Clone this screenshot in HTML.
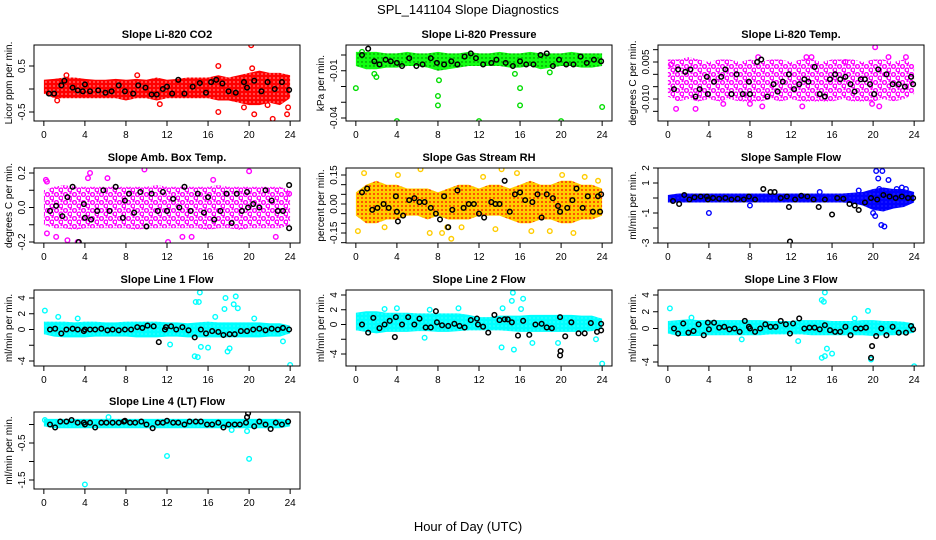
<!DOCTYPE html>
<html><head><meta charset="utf-8"><style>
html,body{margin:0;padding:0;background:#fff;}
svg{display:block;font-family:"Liberation Sans",sans-serif;}
</style></head><body>
<svg id="chart" width="936" height="540" viewBox="0 0 936 540" xmlns="http://www.w3.org/2000/svg">
<defs>
<pattern id="pRed" width="4" height="4" patternUnits="userSpaceOnUse"><rect width="4" height="4" fill="#f00"/><circle cx="2" cy="2" r="0.6" fill="#fff"/></pattern>
<pattern id="pGreen" width="4" height="4" patternUnits="userSpaceOnUse"><rect width="4" height="4" fill="#1f1"/><circle cx="2" cy="2" r="0.7" fill="#060"/></pattern>
<pattern id="pMag" width="9" height="8" patternUnits="userSpaceOnUse"><rect width="9" height="8" fill="#fff"/><circle cx="2.5" cy="2.5" r="1.9" fill="none" stroke="#f0f" stroke-width="1.4"/><circle cx="7" cy="6" r="1.9" fill="none" stroke="#f0f" stroke-width="1.4"/><circle cx="7.5" cy="1" r="1.2" fill="#f0f"/></pattern>
<pattern id="pOrange" width="4" height="4" patternUnits="userSpaceOnUse"><rect width="4" height="4" fill="#fc0"/><circle cx="2" cy="2" r="0.9" fill="#f00"/></pattern>
<pattern id="pBlue" width="4" height="4" patternUnits="userSpaceOnUse"><rect width="4" height="4" fill="#00f"/><circle cx="2" cy="2" r="0.5" fill="#66f"/></pattern>
<pattern id="pCyan" width="4" height="4" patternUnits="userSpaceOnUse"><rect width="4" height="4" fill="#0ff"/><circle cx="2" cy="2" r="0.5" fill="#9ff"/></pattern>
</defs>
<text x="468" y="14" text-anchor="middle" font-size="13">SPL_141104  Slope Diagnostics</text>
<text x="468" y="531" text-anchor="middle" font-size="13">Hour of Day (UTC)</text>
</svg>
<script>
const xTicks = [0,4,8,12,16,20,24];
const bandHours = [0,1,2,3,4,5,6,7,8,9,10,11,12,13,14,15,16,17,18,19,20,21,22,23,24];

// Panel 1: CO2
const co2Hi = [0.2,0.22,0.25,0.25,0.22,0.2,0.2,0.22,0.2,0.22,0.2,0.25,0.2,0.22,0.25,0.25,0.25,0.3,0.25,0.3,0.35,0.4,0.35,0.35,0.3];
const co2Lo = [-0.1,-0.2,-0.2,-0.2,-0.2,-0.2,-0.2,-0.2,-0.25,-0.2,-0.2,-0.25,-0.2,-0.2,-0.2,-0.2,-0.2,-0.25,-0.25,-0.3,-0.35,-0.35,-0.3,-0.35,-0.2];
const co2OutX = [17,17,20.2,20.5,22.3,23.7,23.8,11.3,1.3,21.8,20.3,19.5,9.1,2.2];
const co2OutY = [-0.5,0.5,0.95,-0.55,-0.65,-0.55,-0.4,-0.33,-0.25,-0.35,0.45,-0.4,0.3,0.3];
const co2BlkX = [0.5,1,1.7,2,2.8,3.3,3.8,4,4.5,5.3,6,6.6,7.3,7.9,8.7,9.2,9.9,10.5,11,11.6,12,12.5,13.1,13.7,14.5,15.2,15.8,16.3,16.8,17.4,18,18.7,19.5,19.8,20.5,21.2,21.8,22.5,23.2,23.9];
const co2BlkY = [-0.1,-0.1,0.08,0.18,0.03,-0.03,-0.05,0.1,-0.05,-0.03,-0.08,-0.05,0.08,-0.05,-0.1,0.08,0.03,-0.12,-0.12,0.0,0.05,-0.1,0.2,-0.1,0.05,0.13,-0.08,0.15,0.2,0.12,-0.05,-0.08,0.15,0.03,0.18,-0.05,0.15,0.0,0.15,-0.02];

// Panel 2: Pressure
const prHi = [0.002,0.002,0.002,0.001,0.001,0.002,0.001,0.001,0.002,0.001,0.001,0.002,0.001,0.001,0.002,0.001,0.001,0.002,0.001,0.001,0.001,0.002,0.001,0.001,0.001];
const prLo = [-0.007,-0.009,-0.009,-0.008,-0.008,-0.007,-0.007,-0.008,-0.01,-0.009,-0.008,-0.007,-0.007,-0.007,-0.007,-0.008,-0.008,-0.007,-0.009,-0.008,-0.007,-0.007,-0.008,-0.008,-0.007];
const prOutX = [0,4,8,8,12,16,16,20,24,1.8,2,0.6,8.1,15.5,18.9];
const prOutY = [-0.021,-0.042,-0.026,-0.032,-0.042,-0.032,-0.021,-0.042,-0.033,-0.012,-0.014,0.002,-0.016,-0.012,-0.011];
const prBlkX = [0.6,1.2,1.8,2.3,2.9,3.4,4,4.5,5.2,5.9,6.5,7.3,7.9,8.6,9.3,9.9,10.6,11.2,11.7,12.4,13.2,13.7,14.6,15.3,16,16.6,17.3,18,18.6,19.2,19.8,20.5,21.2,21.9,22.5,23.2,23.9];
const prBlkY = [0.0,0.004,-0.004,-0.006,-0.003,-0.004,-0.005,-0.007,-0.002,-0.007,-0.006,-0.002,-0.005,-0.006,-0.004,-0.006,-0.001,0.001,-0.002,-0.006,-0.005,-0.003,-0.005,-0.007,-0.004,-0.006,-0.006,0.0,0.001,-0.007,-0.003,-0.006,-0.006,-0.001,-0.005,-0.003,-0.004];

// Panel 3: Li-820 Temp
const ltHi = [0.006,0.006,0.007,0.006,0.005,0.006,0.006,0.005,0.006,0.005,0.006,0.006,0.005,0.006,0.006,0.005,0.006,0.006,0.006,0.005,0.006,0.006,0.005,0.006,0.004];
const ltLo = [-0.009,-0.011,-0.01,-0.011,-0.01,-0.011,-0.01,-0.011,-0.011,-0.011,-0.01,-0.011,-0.01,-0.011,-0.011,-0.011,-0.011,-0.01,-0.011,-0.011,-0.011,-0.01,-0.011,-0.01,-0.008];
const ltOutX = [20.2,0.8,2.7,8.8,13.5,14,21.5,23.2,20.6,8,9.2,0.3,17.3,13.1,19.9,5.4];
const ltOutY = [0.011,-0.014,-0.014,0.007,0.007,0.007,0.007,0.007,-0.013,-0.012,-0.013,0.004,0.005,-0.013,-0.012,-0.012];
const ltBlkX = [0.6,1,1.7,2.2,2.7,3.1,3.8,3.9,4.5,5.2,5.6,6.2,6.7,7.3,7.9,8,8.7,9.1,9.7,10.3,10.7,11.2,11.8,12.3,12.8,13.3,13.7,14.3,14.8,15.3,15.8,16.3,16.8,17.3,17.8,18.2,18.8,19.2,19.7,20.1,20.5,21.3,21.9,22.5,23.1,23.7,23.9];
const ltBlkY = [-0.006,0.002,0.001,0.002,-0.009,-0.006,-0.001,-0.008,-0.003,-0.001,0.002,-0.008,0.0,-0.008,-0.003,-0.008,0.005,0.006,-0.009,-0.004,-0.007,-0.003,0.0,-0.006,-0.004,-0.002,-0.003,0.003,-0.008,-0.009,-0.002,0.0,-0.002,-0.001,-0.004,-0.007,-0.002,-0.002,-0.004,-0.008,0.002,0.0,-0.004,-0.004,-0.005,-0.001,-0.004];

// Panel 4: Amb. Box Temp
const abHi = [0.1,0.12,0.13,0.12,0.12,0.12,0.12,0.12,0.12,0.12,0.12,0.13,0.12,0.12,0.12,0.12,0.12,0.13,0.12,0.12,0.12,0.12,0.12,0.12,0.1];
const abLo = [-0.1,-0.12,-0.12,-0.13,-0.12,-0.12,-0.12,-0.12,-0.12,-0.13,-0.12,-0.12,-0.12,-0.12,-0.12,-0.12,-0.13,-0.12,-0.12,-0.13,-0.12,-0.12,-0.12,-0.12,-0.1];
const abOutX = [3.3,4.5,9.8,12.1,20,0.3,0.3,2.3,13.5,14.4,1.2,4.3,0.2,6.2,22.6,23.9,16.5];
const abOutY = [-0.2,0.2,0.22,-0.2,0.21,0.15,-0.15,-0.19,-0.17,-0.17,-0.17,0.17,0.16,0.17,-0.17,0.08,0.16];
const abBlkX = [0.6,1.2,1.8,2.3,2.8,3.4,3.9,4,4.6,5.2,5.8,6.4,7,7.7,7.9,8.3,8.8,9.4,10,10.5,11.1,11.6,12,12.6,13.2,13.7,14.3,15,15.6,16,16.6,17.2,17.8,18.3,18.8,19.3,19.8,19.9,20.4,21,21.6,22.2,22.8,23.3,23.9,23.9];
const abBlkY = [-0.02,0.01,-0.05,0.06,0.12,-0.2,0.02,-0.06,-0.07,-0.02,0.1,-0.02,0.12,-0.06,0.04,0.08,-0.03,0.09,-0.11,0.08,-0.02,0.09,-0.02,0.05,0.0,0.12,-0.02,0.08,-0.03,0.06,-0.07,-0.02,0.08,-0.09,0.08,-0.02,0.09,0.0,0.02,0.0,0.1,0.04,-0.02,-0.02,0.13,-0.12];

// Panel 5: Gas Stream RH
const rhHi = [0.06,0.1,0.12,0.1,0.1,0.08,0.08,0.08,0.06,0.08,0.1,0.1,0.08,0.1,0.1,0.08,0.1,0.12,0.1,0.1,0.12,0.12,0.1,0.1,0.08];
const rhLo = [-0.06,-0.1,-0.1,-0.08,-0.08,-0.06,-0.06,-0.08,-0.06,-0.08,-0.08,-0.08,-0.06,-0.06,-0.06,-0.08,-0.1,-0.1,-0.08,-0.08,-0.1,-0.1,-0.08,-0.08,-0.06];
const rhOutX = [0.8,4.1,6.3,8.4,9.3,12.4,15.7,20.1,22.3,23.6,0.2,2.8,7.2,8.9,10.3,13.6,17.1,21.2,18.9,14.2];
const rhOutY = [0.16,0.15,0.18,-0.15,-0.18,0.14,0.16,0.15,0.14,0.12,-0.14,-0.12,-0.15,-0.12,-0.12,-0.13,-0.14,-0.15,-0.14,0.18];
const rhBlkX = [0.6,1.1,1.6,2.1,2.7,3.2,3.9,4,4.1,4.6,5.2,5.7,6.2,6.7,7.3,7.8,8.2,8.6,9,9.4,9.9,10.5,11,11.5,12,12.5,13.2,13.6,14,14.5,15,15.5,16,16.5,17.2,17.7,18.1,18.6,19.2,19.7,19.9,20.6,21.1,21.5,22.1,22.6,23.1,23.6,23.9,23.8];
const rhBlkY = [0.06,0.08,-0.03,-0.02,0.0,-0.02,0.04,-0.04,-0.09,-0.06,0.02,0.03,0.01,0.01,-0.02,-0.05,-0.08,0.04,-0.12,-0.03,0.07,-0.02,0.0,0.0,-0.05,-0.07,0.01,0.0,0.0,0.12,-0.04,0.05,0.06,0.02,0.01,0.05,-0.07,0.05,0.03,-0.01,-0.04,-0.02,0.02,0.08,-0.02,0.04,-0.04,0.04,0.05,-0.04];

// Panel 6: Sample Flow
const sfHi = [0.2,0.3,0.3,0.3,0.3,0.3,0.3,0.3,0.3,0.3,0.3,0.3,0.3,0.3,0.3,0.3,0.3,0.3,0.35,0.4,0.6,0.7,0.6,0.6,0.4];
const sfLo = [-0.3,-0.3,-0.3,-0.3,-0.3,-0.3,-0.3,-0.3,-0.3,-0.3,-0.3,-0.3,-0.3,-0.3,-0.3,-0.3,-0.3,-0.3,-0.35,-0.5,-0.8,-0.9,-0.7,-0.6,-0.3];
const sfOutX = [4,8,20.3,20.9,20.5,20.2,20.8,21.1,20,14.8,21.5,20.6,22.3,22.8,23.2,18.6];
const sfOutY = [-1,-0.5,1.8,1.8,1.3,-1.2,-1.8,-1.9,-1,0.4,1.2,0.6,0.6,0.7,0.6,0.5];
const sfBlkX = [0.5,1.1,1.6,2.1,2.6,3.2,3.8,3.9,4.4,5,5.6,6.2,6.8,7.4,7.9,8.5,9.3,10,10.4,11,11.6,11.8,11.9,12.4,13,13.6,14.2,14.7,15.3,16,16.5,17.1,17.7,18.2,18.6,19.2,19.8,20.4,21,21.6,22.2,22.8,23.4,23.9];
const sfBlkY = [-0.2,-0.4,0.2,-0.1,0.05,0.1,0.1,-0.1,0.0,-0.05,0.0,-0.1,-0.05,-0.1,0.1,-0.1,0.6,0.4,0.4,0.0,0.1,-0.6,-2.9,-0.1,0.15,0.1,-0.1,-0.6,-0.1,-1.1,0.0,-0.05,-0.4,-0.5,-0.8,-0.3,0.0,-0.1,0.2,0.1,0.0,0.1,0.0,0.0];

// Panel 7: Line 1 Flow
const l1Hi = [1.0,1.0,1.0,0.9,1.0,1.0,0.9,0.9,1.0,1.0,1.0,1.0,0.9,0.9,0.8,0.9,1.0,0.9,0.9,0.9,0.9,0.9,0.8,0.8,0.5];
const l1Lo = [-0.6,-0.9,-1.0,-1.0,-1.0,-0.9,-0.9,-0.9,-0.9,-1.0,-1.0,-1.0,-0.9,-0.9,-1.0,-1.0,-1.0,-1.0,-1.0,-1.0,-1.0,-1.0,-0.9,-0.9,-0.5];
const l1OutX = [0.1,15.2,14.8,15.1,17.7,18.7,17.6,18.5,18.9,15,14.7,15.3,16,17.9,18.1,24,12.3,23.3,1.4,3.3,16.7,20.5];
const l1OutY = [2.4,4.7,3.5,3.5,4,4.2,2.6,3.2,2.7,-3.5,-3.4,-2.2,-2.3,-2.8,-2.4,-4.5,-1.9,-1.5,1.6,1.4,1.6,1.4];
const l1BlkX = [0.6,1.1,1.7,2.2,2.8,3.3,3.9,4,4.5,5,5.6,6.2,6.7,7.3,7.9,8.5,9.1,9.6,10.1,10.7,11.2,11.8,11.9,12.4,12.9,13.5,14.1,14.7,15.3,15.8,16.4,17,17.5,18.1,18.6,19.2,19.8,20.4,21,21.6,22.2,22.8,23.3,23.9];
const l1BlkY = [0.0,0.1,-0.5,0.0,0.1,0.0,-0.2,0.0,0.0,0.0,0.1,-0.1,0.0,-0.1,0.0,0.0,0.3,0.2,0.5,0.4,-1.6,0.0,0.3,0.4,0.0,0.3,-0.1,-1.0,0.0,-0.5,-0.2,-0.3,-0.7,-0.6,-0.6,-0.2,-0.2,0.0,0.1,-0.1,0.1,0.0,0.2,0.0];

// Panel 8: Line 2 Flow
const l2Hi = [1.6,1.8,1.8,1.6,1.6,1.6,1.5,1.5,1.5,1.5,1.5,1.3,1.0,1.0,1.2,1.2,1.2,1.3,1.3,1.3,1.3,1.3,1.2,1.2,0.8];
const l2Lo = [-0.8,-1.0,-1.2,-1.0,-1.0,-1.0,-0.9,-0.9,-1.0,-1.0,-0.9,-0.8,-0.8,-0.8,-0.8,-0.9,-1.0,-1.0,-1.0,-1.0,-1.0,-1.0,-1.0,-0.9,-0.6];
const l2OutX = [14.2,15.2,15.3,16.3,15.4,17.2,24,4,10,7.2,2.8,16.1,19.7,23.4,14.3,6.7];
const l2OutY = [-3.1,3.2,4.3,3.5,-3.4,-2.5,-5.3,2.2,2.2,2,2.1,2.1,-2.5,-2,2.2,-1.8];
const l2BlkX = [0.6,1.2,1.7,2.3,2.8,3.3,3.8,3.9,4.5,5.1,5.7,6.2,6.8,7.3,7.8,7.9,8.4,9,9.6,10.1,10.6,11.2,11.8,11.9,12.4,12.9,13.5,14,14.5,14.8,15.2,15.8,16.3,16.9,17.5,18.1,18.6,19.1,19.9,19.9,19.95,20.4,21,21.7,22.3,22.9,23.5,23.9,23.9];
const l2BlkY = [0.0,-1.1,0.9,-0.5,0.0,0.5,-1.7,1.0,0.0,1.0,0.0,0.8,-0.4,-0.4,1.8,0.3,-0.1,-0.2,0.1,-0.2,-0.4,0.6,0.8,0.0,-0.3,-1.1,1.3,0.6,0.7,0.7,0.3,-1.5,0.5,-1.4,0.0,0.1,-0.4,-0.5,1.0,-4.2,-3.6,-1.6,0.3,-1.2,-1.2,0.2,-1.0,-0.8,0.1];

// Panel 9: Line 3 Flow
const l3Hi = [0.9,1.0,1.1,1.0,1.0,1.0,1.0,1.0,1.0,1.0,0.9,0.9,0.9,1.0,1.0,1.0,0.9,0.9,0.9,1.0,1.0,0.9,0.9,0.8,0.6];
const l3Lo = [-0.6,-0.9,-0.9,-0.9,-0.8,-0.8,-0.8,-0.8,-0.8,-0.8,-0.7,-0.7,-0.7,-0.7,-0.8,-0.8,-0.8,-0.8,-0.8,-0.8,-0.9,-0.8,-0.8,-0.7,-0.5];
const l3OutX = [15,15.3,15.2,15,15.3,15.5,16,24,0.2,19.5,19.8,7.2,12.7,2.3,18.2];
const l3OutY = [3.4,4.3,3.2,-3.5,-3.3,-2.4,-3,-4.5,2.4,2.1,-3.7,-1.3,-1.5,1.3,1.2];
const l3BlkX = [0.6,1,1.5,2,2.5,3,3.5,3.9,4,4.5,5,5.5,6,6.5,7,7.5,7.9,8,8.5,9,9.5,10,10.5,11,11.5,11.9,12.2,12.8,13.3,13.8,14.3,14.8,15.3,15.8,16.3,16.8,17.3,17.8,18.3,18.8,19.3,19.8,19.9,20.3,20.8,21.3,21.9,22.5,23.2,23.7,23.9];
const l3BlkY = [0.0,-0.6,0.6,-0.5,-0.3,0.5,-0.8,0.7,-0.1,0.7,0.1,0.2,-0.1,0.0,-0.4,0.9,0.2,0.0,-0.4,0.0,0.5,0.2,0.2,0.9,0.5,-0.6,0.6,1.2,0.0,0.1,0.1,-0.1,0.4,-0.2,-0.4,-0.4,0.2,-0.8,0.0,0.0,0.1,-3.5,-2.1,-0.9,0.0,-0.8,0.2,-0.5,-0.5,0.3,-0.1];

// Panel 10: Line 4 (LT) Flow
const l4Hi = [0.15,0.15,0.15,0.15,0.15,0.15,0.15,0.15,0.15,0.15,0.15,0.15,0.15,0.15,0.15,0.15,0.15,0.15,0.15,0.15,0.15,0.15,0.15,0.15,0.12];
const l4Lo = [-0.05,-0.1,-0.1,-0.1,-0.1,-0.1,-0.1,-0.1,-0.1,-0.1,-0.1,-0.1,-0.1,-0.1,-0.1,-0.1,-0.1,-0.1,-0.1,-0.1,-0.1,-0.1,-0.1,-0.1,-0.05];
const l4OutX = [4,12,20,6.3,19.8,0.1,18.3];
const l4OutY = [-1.62,-0.85,-0.93,0.2,-0.18,0.12,-0.15];
const l4BlkX = [0.6,1.1,1.6,2.2,2.7,3.3,3.9,4,4.5,5,5.6,6.1,6.7,7.3,7.8,7.9,8.4,8.9,9.5,10,10.6,11.1,11.6,12,12.6,13.1,13.7,14.2,14.8,15.3,15.9,16.4,17,17.5,18,18.6,19.1,19.7,19.8,19.9,20.5,21,21.6,22.1,22.6,23.2,23.8];
const l4BlkY = [0.0,-0.08,0.08,0.08,0.12,0.05,0.05,0.0,0.05,-0.08,0.05,0.05,0.05,0.05,0.08,0.1,0.05,0.05,0.08,0.0,-0.1,0.05,0.05,0.1,0.05,0.05,0.0,0.08,0.08,0.08,0.0,0.0,0.05,-0.08,0.0,0.0,0.0,0.05,0.2,0.3,-0.05,0.08,0.0,-0.12,0.05,0.0,0.08];

const yTick1 = [-0.5,0,0.5], yLab1 = ["-0.5","","0.5"];
const yTick2 = [0,-0.01,-0.02,-0.03,-0.04], yLab2 = ["","-0.01","","","-0.04"];
const yTick3 = [0.01,0.005,0,-0.005,-0.01,-0.015], yLab3 = ["","0.005","","","-0.010",""];
const yTick4 = [0.2,0.1,0,-0.1,-0.2], yLab4 = ["0.2","","0.0","","-0.2"];
const yTick5 = [0.15,0.1,0.05,0,-0.05,-0.1,-0.15,-0.2], yLab5 = ["0.15","","","0.00","","","-0.15",""];
const yTick6 = [2,1,0,-1,-2,-3], yLab6 = ["2","1","","-1","","-3"];
const yTick7 = [4,2,0,-2,-4], yLab7 = ["4","2","0","","-4"];
const yTick8 = [4,2,0,-2,-4], yLab8 = ["4","2","0","","-4"];
const yTick9 = [4,2,0,-2,-4], yLab9 = ["4","2","0","","-4"];
const yTick10 = [0,-0.5,-1,-1.5], yLab10 = ["","-0.5","","-1.5"];

const NS = "http://www.w3.org/2000/svg";
const svg = document.getElementById("chart");
function mk(tag, attrs, parent){ const e=document.createElementNS(NS,tag); for(const k in attrs) e.setAttribute(k,attrs[k]); (parent||svg).appendChild(e); return e; }

const panels = [
 ["co2","Slope Li-820 CO2","Licor ppm per min.",34,45,121,0.5,66,-0.5,112,"url(#pRed)","#f00",co2Hi,co2Lo,co2OutX,co2OutY,co2BlkX,co2BlkY,yTick1,yLab1],
 ["pressure","Slope Li-820 Pressure","kPa per min.",346,45,121,0,55,-0.04,118,"url(#pGreen)","#0d0",prHi,prLo,prOutX,prOutY,prBlkX,prBlkY,yTick2,yLab2],
 ["li820-temp","Slope Li-820 Temp.","degrees C per min.",658,45,121,0.005,62,-0.01,99,"url(#pMag)","#f0f",ltHi,ltLo,ltOutX,ltOutY,ltBlkX,ltBlkY,yTick3,yLab3],
 ["amb-box-temp","Slope Amb. Box Temp.","degrees C per min.",34,168,243,0.2,173,-0.2,242,"url(#pMag)","#f0f",abHi,abLo,abOutX,abOutY,abBlkX,abBlkY,yTick4,yLab4],
 ["gas-stream-rh","Slope Gas Stream RH","percent per min.",346,168,243,0.15,175,-0.15,233,"url(#pOrange)","#fc0",rhHi,rhLo,rhOutX,rhOutY,rhBlkX,rhBlkY,yTick5,yLab5],
 ["sample-flow","Slope Sample Flow","ml/min per min.",658,168,243,2,168,-3,243,"url(#pBlue)","#00f",sfHi,sfLo,sfOutX,sfOutY,sfBlkX,sfBlkY,yTick6,yLab6],
 ["line1-flow","Slope Line 1 Flow","ml/min per min.",34,290,366,4,298,-4,361,"url(#pCyan)","#0ff",l1Hi,l1Lo,l1OutX,l1OutY,l1BlkX,l1BlkY,yTick7,yLab7],
 ["line2-flow","Slope Line 2 Flow","ml/min per min.",346,290,366,4,295,-4,354,"url(#pCyan)","#0ff",l2Hi,l2Lo,l2OutX,l2OutY,l2BlkX,l2BlkY,yTick8,yLab8],
 ["line3-flow","Slope Line 3 Flow","ml/min per min.",658,290,366,4,295,-4,362,"url(#pCyan)","#0ff",l3Hi,l3Lo,l3OutX,l3OutY,l3BlkX,l3BlkY,yTick9,yLab9],
 ["line4-flow","Slope Line 4 (LT) Flow","ml/min per min.",34,412,489,-0.5,443,-1.5,480,"url(#pCyan)","#0ff",l4Hi,l4Lo,l4OutX,l4OutY,l4BlkX,l4BlkY,yTick10,yLab10]
];

panels.forEach(p => {
  const [slug,title,ylab,L,T,B,v1,p1,v2,p2,fill,col,hi,lo,ox,oy,bx,by,yt,yl] = p;
  const W = 266;
  const g = mk("g",{});
  
  
  const xs = h => L + (h + 0.96) * W / 25.92;
  const ys = v => p1 + (v - v1) * (p2 - p1) / (v2 - v1);
  const clip = mk("clipPath",{id:"clip-"+slug},g);
  mk("rect",{x:L,y:T,width:W,height:B-T},clip);
  const inner = mk("g",{"clip-path":"url(#clip-"+slug+")"},g);
  let d = "";
  bandHours.forEach((h,i)=>{ d += (i?"L":"M") + xs(h).toFixed(1) + " " + ys(hi[i]).toFixed(1); });
  for(let i=bandHours.length-1;i>=0;i--) d += "L" + xs(bandHours[i]).toFixed(1) + " " + ys(lo[i]).toFixed(1);
  const band = mk("path",{d:d+"Z",fill:fill,stroke:"none"},inner);
  
  
  ox.forEach((x,i)=>{
    const c = mk("circle",{cx:xs(x),cy:ys(oy[i]),r:2.3,fill:"none",stroke:col,"stroke-width":"1.4"},inner);
    
    
  });
  bx.forEach((x,i)=>{
    const c = mk("circle",{cx:xs(x),cy:ys(by[i]),r:2.3,fill:"none",stroke:"#000","stroke-width":"1.5"},inner);
    
    
  });
  const box = mk("rect",{x:L,y:T,width:W,height:B-T,fill:"none",stroke:"#000","stroke-width":"1"},g);
  
  
  const t = mk("text",{x:L+W/2,y:T-7,"text-anchor":"middle","font-size":"11","font-weight":"bold"},g);
  t.textContent = title;
  
  
  mk("line",{x1:xs(0),x2:xs(24),y1:B,y2:B,stroke:"#000"},g);
  xTicks.forEach(h=>{
    mk("line",{x1:xs(h),x2:xs(h),y1:B,y2:B+5,stroke:"#000"},g);
    const tl = mk("text",{x:xs(h),y:B+17,"text-anchor":"middle","font-size":"10"},g);
    tl.textContent = h;
    
    
  });
  mk("line",{x1:L,x2:L,y1:ys(yt[0]),y2:ys(yt[yt.length-1]),stroke:"#000"},g);
  yt.forEach((v,i)=>{
    const yy = ys(v);
    mk("line",{x1:L-5,x2:L,y1:yy,y2:yy,stroke:"#000"},g);
    if(yl[i]){
      const tl = mk("text",{x:0,y:0,"text-anchor":"middle","font-size":"10",transform:"translate("+(L-9)+","+yy+") rotate(-90)"},g);
      tl.textContent = yl[i];
      
      
    }
  });
  const yt2 = mk("text",{x:0,y:0,"text-anchor":"middle","font-size":"10",transform:"translate("+(L-22)+","+((T+B)/2)+") rotate(-90)"},g);
  yt2.textContent = ylab;
  
  
});
</script>
</body></html>
